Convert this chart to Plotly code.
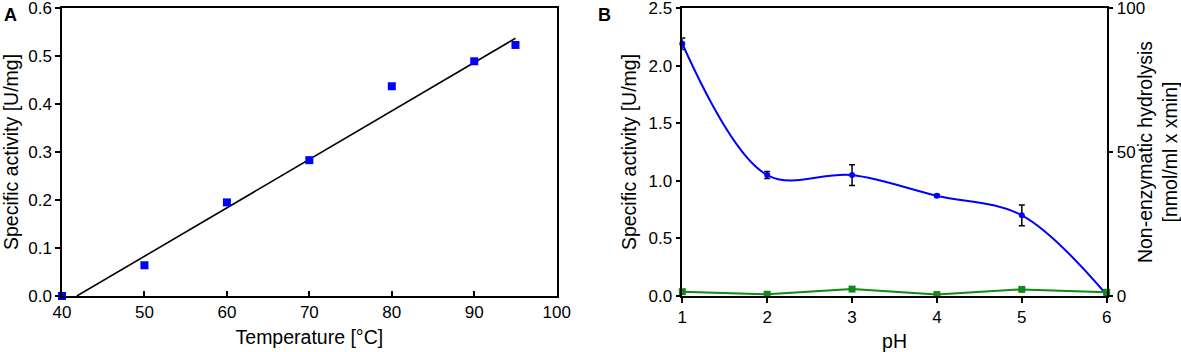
import plotly.graph_objects as go

# Panel A data
temp_c = [40, 50, 60, 70, 80, 90, 95]
activity_temp = [0.0, 0.064, 0.195, 0.283, 0.437, 0.489, 0.523]
fit_temp = [41.8, 95.0]
fit_activity = [0.0, 0.537]
temp_ticks = [40, 50, 60, 70, 80, 90, 100]
act_a_ticks = [0.0, 0.1, 0.2, 0.3, 0.4, 0.5, 0.6]

# Panel B data
ph = [1, 2, 3, 4, 5, 6]
activity_ph = [2.19, 1.05, 1.05, 0.87, 0.70, 0.01]
activity_ph_err = [0.05, 0.03, 0.09, 0.01, 0.09, 0.0]
nonenz_hydrolysis = [1.5, 0.6, 2.4, 0.5, 2.3, 1.3]
ph_ticks = [1, 2, 3, 4, 5, 6]
act_b_ticks = [0.0, 0.5, 1.0, 1.5, 2.0, 2.5]
hydro_ticks = [0, 50, 100]

W, H = 1181, 352
FONT = "Liberation Sans, Arial, sans-serif"
BLUE = "#0000FF"
GREEN = "#138A13"

def px(v):
    return v / W

fig = go.Figure()

fig.add_trace(go.Scatter(
    x=fit_temp, y=fit_activity, mode="lines",
    line=dict(color="black", width=1.6),
    xaxis="x", yaxis="y", showlegend=False, cliponaxis=False))
fig.add_trace(go.Scatter(
    x=temp_c, y=activity_temp, mode="markers",
    marker=dict(symbol="square", size=8, color=BLUE),
    xaxis="x", yaxis="y", showlegend=False, cliponaxis=False))

fig.add_trace(go.Scatter(
    x=ph, y=activity_ph, mode="lines+markers",
    line=dict(color=BLUE, width=2, shape="spline", smoothing=1.0),
    marker=dict(symbol="circle", size=6, color=BLUE),
    error_y=dict(type="data", array=activity_ph_err, color="black",
                 thickness=1.5, width=3),
    xaxis="x2", yaxis="y2", showlegend=False, cliponaxis=False))
fig.add_trace(go.Scatter(
    x=ph, y=nonenz_hydrolysis, mode="lines+markers",
    line=dict(color=GREEN, width=2),
    marker=dict(symbol="square", size=7, color=GREEN),
    xaxis="x2", yaxis="y3", showlegend=False, cliponaxis=False))

axis_common = dict(showgrid=False, zeroline=False, showline=True,
                   linecolor="black", linewidth=1.5,
                   tickcolor="black", tickwidth=1.5, ticklen=5,
                   automargin=False, ticklabeloverflow="allow",
                   tickfont=dict(family=FONT, size=17, color="black"),
                   title_font=dict(family=FONT, size=19.5, color="black"))

y_dom = [56 / H, 1 - 8 / H]

fig.update_layout(
    width=W, height=H,
    margin=dict(l=0, r=0, t=0, b=0, autoexpand=False),
    paper_bgcolor="white", plot_bgcolor="white",
    font=dict(family=FONT, color="black"),
    xaxis=dict(domain=[px(62), px(556.7)], range=[40, 100],
               tickmode="array", tickvals=temp_ticks,
               ticks="inside", mirror=True, anchor="y",
               title=dict(text="Temperature [°C]", standoff=9),
               **axis_common),
    yaxis=dict(domain=y_dom, range=[0, 0.6],
               tickmode="array", tickvals=act_a_ticks, tickformat=".1f",
               ticks="outside", mirror=True, anchor="x",
               title=dict(text="Specific activity [U/mg]", standoff=7),
               **axis_common),
    xaxis2=dict(domain=[px(682.3), px(1106.7)], range=[1, 6],
                tickmode="array", tickvals=ph_ticks,
                ticks="outside", mirror=True, anchor="y2",
                title=dict(text="pH", standoff=8),
                **axis_common),
    yaxis2=dict(domain=y_dom, range=[0, 2.5],
                tickmode="array", tickvals=act_b_ticks, tickformat=".1f",
                ticks="outside", anchor="x2",
                title=dict(text="Specific activity [U/mg]", standoff=7),
                **axis_common),
    yaxis3=dict(range=[0, 100], tickmode="array", tickvals=hydro_ticks,
                ticks="outside", anchor="x2", overlaying="y2", side="right",
                title=dict(text="Non-enzymatic hydrolysis<br>[nmol/ml x xmin]",
                           standoff=9),
                **axis_common),
    annotations=[
        dict(text="<b>A</b>", x=px(2), y=1 - 3 / H, xref="paper", yref="paper",
             xanchor="left", yanchor="top", showarrow=False,
             font=dict(family=FONT, size=18, color="black")),
        dict(text="<b>B</b>", x=px(596), y=1 - 3 / H, xref="paper", yref="paper",
             xanchor="left", yanchor="top", showarrow=False,
             font=dict(family=FONT, size=18, color="black")),
    ],
)

fig.write_html("out.html",
               config={"displayModeBar": False},
               post_script="document.body.style.margin='0px';")
